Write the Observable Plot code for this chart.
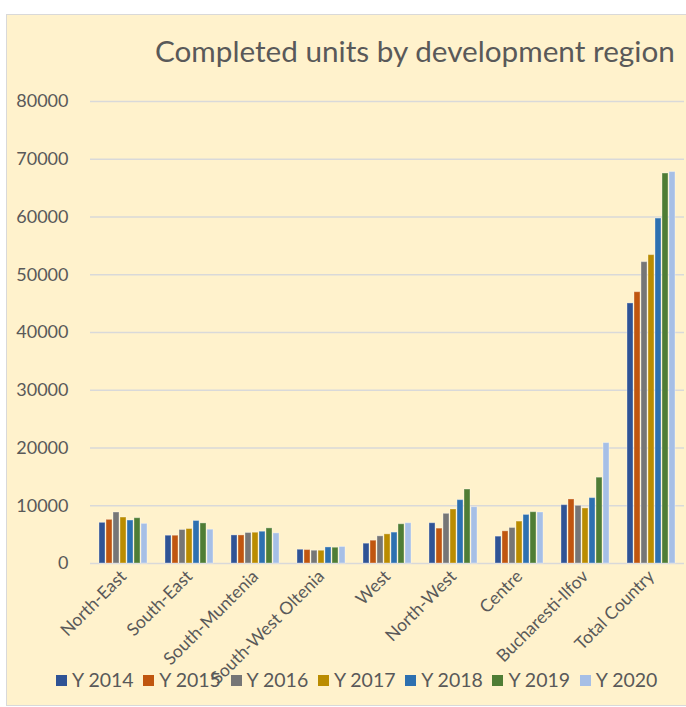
<!DOCTYPE html>
<html>
<head>
<meta charset="utf-8">
<script src="https://cdn.jsdelivr.net/npm/d3@7"></script>
<script src="https://cdn.jsdelivr.net/npm/@observablehq/plot@0.6"></script>
<style>
  html, body { margin: 0; padding: 0; background: #ffffff; overflow: hidden; width: 686px; height: 707px; }
  #panel { position: absolute; left: 6px; top: 14px; width: 700px; height: 692px; background: #FFF2CC; border: 1px solid #D9D9D9; box-sizing: border-box; font-family: Lato, "Open Sans", sans-serif; color: #595959; }
  #title { position: absolute; left: 148px; top: 21px; font-size: 29.7px; line-height: 30px; white-space: nowrap; color: #595959; }
  #chart { position: absolute; left: 0; top: 0; }
  #legend { position: absolute; left: 49px; top: 655px; display: flex; font-size: 19.5px; line-height: 20px; color: #595959; white-space: nowrap; }
  .item { display: flex; align-items: center; width: 87.3px; }
  .sw { width: 11px; height: 11px; margin-right: 5px; flex: none; }
</style>
</head>
<body>
<div id="panel">
  <div id="title">Completed units by development region</div>
  <div id="chart"></div>
  <div id="legend"></div>
</div>
<script>
const regions = ["North-East", "South-East", "South-Muntenia", "South-West Oltenia", "West", "North-West", "Centre", "Bucharesti-Ilfov", "Total Country"];
const years = ["Y 2014", "Y 2015", "Y 2016", "Y 2017", "Y 2018", "Y 2019", "Y 2020"];
const y2014 = [7040, 4810, 4860, 2380, 3430, 6970, 4650, 10100, 45030];
const y2015 = [7560, 4810, 4860, 2330, 3950, 6040, 5570, 11090, 46980];
const y2016 = [8830, 5800, 5280, 2210, 4700, 8600, 6150, 9980, 52180];
const y2017 = [7960, 5970, 5330, 2210, 5050, 9350, 7260, 9530, 53400];
const y2018 = [7440, 7360, 5500, 2780, 5350, 10970, 8410, 11320, 59730];
const y2019 = [7840, 6940, 6080, 2730, 6790, 12810, 8880, 14860, 67530];
const y2020 = [6860, 5850, 5210, 2860, 6970, 9750, 8830, 20850, 67780];
const yTicks = [0, 10000, 20000, 30000, 40000, 50000, 60000, 70000, 80000];
const colors = ["#2F5395", "#C0560F", "#767676", "#BA8C00", "#2D70B0", "#4F7D35", "#A6BFE6"];

const series = [y2014, y2015, y2016, y2017, y2018, y2019, y2020];
const data = regions.flatMap((r, i) => years.map((yr, j) => ({region: r, year: yr, value: series[j][i]})));

const chart = Plot.plot({
  width: 679,
  height: 650,
  marginTop: 86,
  marginBottom: 102,
  marginLeft: 81,
  marginRight: 0,
  style: {background: "transparent", fontFamily: "Lato, 'Open Sans', sans-serif", color: "#595959", overflow: "visible"},
  fx: {domain: regions, padding: 0, label: null},
  x: {domain: years, paddingInner: 0.17, paddingOuter: 0.95, axis: null},
  y: {domain: [0, 80000], label: null},
  color: {domain: years, range: colors},
  marks: [
    Plot.gridY(yTicks, {stroke: "#D9D9D9", strokeOpacity: 1, strokeWidth: 1.5}),
    Plot.axisY(yTicks, {tickSize: 0, tickPadding: 22, fontSize: 18, fill: "#595959", tickFormat: d => String(d), label: null}),
    Plot.barY(data, {fx: "region", x: "year", y: "value", fill: "year", stroke: "#ffffff", strokeOpacity: 0.35, strokeWidth: 1}),
    Plot.axisFx({anchor: "bottom", tickRotate: -45, tickSize: 0, tickPadding: 10, fontSize: 17.5, fill: "#595959", label: null})
  ]
});
document.getElementById("chart").appendChild(chart);

const legend = document.getElementById("legend");
years.forEach((yr, j) => {
  const it = document.createElement("div");
  it.className = "item";
  const sw = document.createElement("span");
  sw.className = "sw";
  sw.style.background = colors[j];
  const tx = document.createElement("span");
  tx.textContent = yr;
  it.appendChild(sw);
  it.appendChild(tx);
  legend.appendChild(it);
});
</script>
</body>
</html>
